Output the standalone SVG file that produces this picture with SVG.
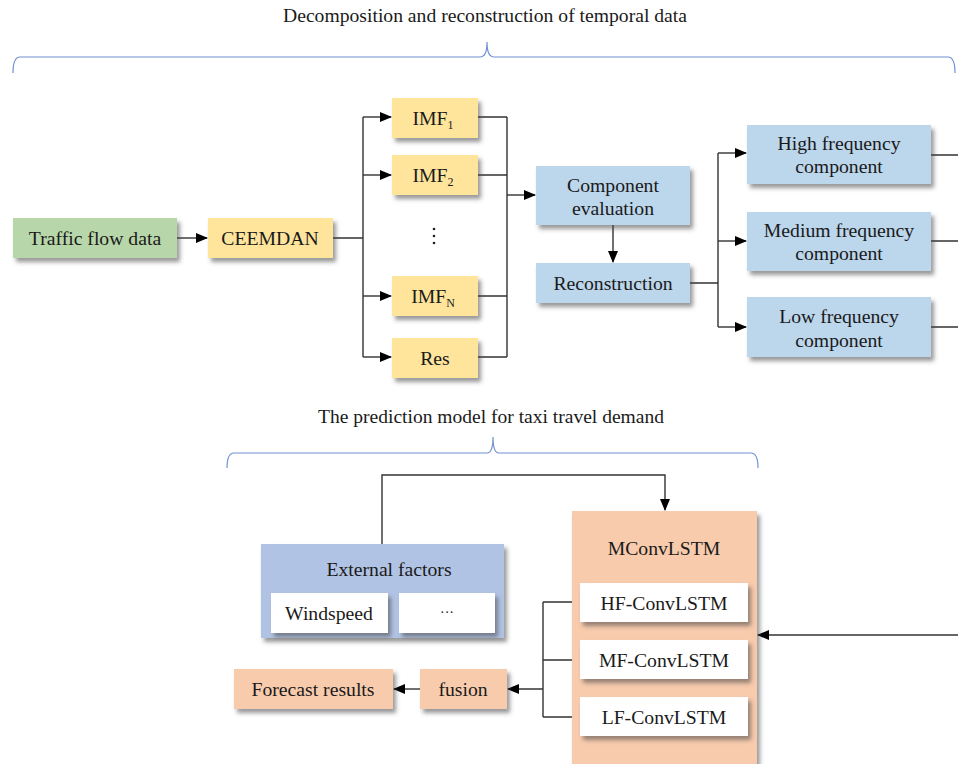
<svg xmlns="http://www.w3.org/2000/svg" width="958" height="764" viewBox="0 0 958 764">
<defs>
<filter id="sh" x="-10%" y="-10%" width="130%" height="140%">
<feDropShadow dx="3" dy="4" stdDeviation="2" flood-color="#444" flood-opacity="0.55"/>
</filter>
<marker id="ar" markerWidth="12" markerHeight="10" refX="11" refY="5" orient="auto" markerUnits="userSpaceOnUse">
<path d="M0,0 L12,5 L0,10 Z" fill="#000"/>
</marker>
<style>
text{font-family:"Liberation Serif","Times New Roman",serif;font-size:19.7px;fill:#1a1a1a;text-anchor:middle}
.g{fill:#b7d6a9}
.y{fill:#ffe59c}
.b{fill:#bcd6ec}
.p{fill:#b1c3e4}
.o{fill:#f8cbad}
.w{fill:#fff}
.box{filter:url(#sh)}
.ln{fill:none;stroke:#333;stroke-width:1.4}
.br{fill:none;stroke:#7090d0;stroke-width:1.2}
</style>
</defs>
<rect width="958" height="764" fill="#fff"/>

<g id="titles">
<text x="485" y="22" textLength="404" lengthAdjust="spacingAndGlyphs">Decomposition and reconstruction of temporal data</text>
<path class="br" d="M13,73 Q13,57 20,57 L480,57 Q487,57 487,42 Q487,57 494,57 L948,57 Q955,57 955,73"/>
<text x="491" y="423" textLength="346" lengthAdjust="spacingAndGlyphs">The prediction model for taxi travel demand</text>
<path class="br" d="M227,468 Q227,453 234,453 L487,453 Q493,453 493,437 Q493,453 499,453 L751,453 Q758,453 758,468"/>
</g>

<g id="connectors">
<path class="ln" d="M177,238 L207,238" marker-end="url(#ar)"/>
<path class="ln" d="M333,238 L363,238 M363,117 L363,357"/>
<path class="ln" d="M363,117 L391,117" marker-end="url(#ar)"/>
<path class="ln" d="M363,175 L391,175" marker-end="url(#ar)"/>
<path class="ln" d="M363,296 L391,296" marker-end="url(#ar)"/>
<path class="ln" d="M363,357 L391,357" marker-end="url(#ar)"/>
<path class="ln" d="M478,117 L507,117 M478,175 L507,175 M478,296 L507,296 M478,357 L507,357 M507,117 L507,357"/>
<path class="ln" d="M507,195 L535,195" marker-end="url(#ar)"/>
<path class="ln" d="M613,225 L613,262" marker-end="url(#ar)"/>
<path class="ln" d="M690,283 L718,283 M718,153 L718,327"/>
<path class="ln" d="M718,153 L746,153" marker-end="url(#ar)"/>
<path class="ln" d="M718,241 L746,241" marker-end="url(#ar)"/>
<path class="ln" d="M718,327 L746,327" marker-end="url(#ar)"/>
<path class="ln" d="M931,155 L958,155 M931,241 L958,241 M931,327 L958,327"/>
<path class="ln" d="M382,544 L382,475 L665,475 L665,510" marker-end="url(#ar)"/>
<path class="ln" d="M958,635 L758,635" marker-end="url(#ar)"/>
<path class="ln" d="M580,602 L543,602 M580,660 L543,660 M580,717 L543,717 M543,602 L543,717"/>
<path class="ln" d="M543,689 L508,689" marker-end="url(#ar)"/>
<path class="ln" d="M420,689 L394,689" marker-end="url(#ar)"/>
</g>

<g id="traffic"><rect class="g box" x="13" y="218" width="164" height="40"/><text x="95" y="245">Traffic flow data</text></g>
<g id="ceemdan"><rect class="y box" x="208" y="218" width="125" height="40"/><text x="270" y="245">CEEMDAN</text></g>
<g id="imf1"><rect class="y box" x="392" y="98" width="86" height="40"/><text x="433" y="125">IMF<tspan font-size="12" dy="4">1</tspan></text></g>
<g id="imf2"><rect class="y box" x="392" y="155" width="86" height="40"/><text x="433" y="182">IMF<tspan font-size="12" dy="4">2</tspan></text></g>
<g id="dots"><circle cx="434" cy="229" r="1.3" fill="#222"/><circle cx="434" cy="236" r="1.3" fill="#222"/><circle cx="434" cy="243" r="1.3" fill="#222"/></g>
<g id="imfn"><rect class="y box" x="392" y="276" width="86" height="40"/><text x="433" y="303">IMF<tspan font-size="12" dy="4">N</tspan></text></g>
<g id="res"><rect class="y box" x="392" y="338" width="86" height="40"/><text x="435" y="365">Res</text></g>

<g id="evaluation"><rect class="b box" x="536" y="166" width="154" height="59"/><text x="613" y="192">Component</text><text x="613" y="215">evaluation</text></g>
<g id="reconstruction"><rect class="b box" x="536" y="263" width="154" height="40"/><text x="613" y="290">Reconstruction</text></g>
<g id="high"><rect class="b box" x="747" y="125" width="184" height="59"/><text x="839" y="150">High frequency</text><text x="839" y="173">component</text></g>
<g id="medium"><rect class="b box" x="747" y="212" width="184" height="59"/><text x="839" y="237">Medium frequency</text><text x="839" y="260">component</text></g>
<g id="low"><rect class="b box" x="747" y="297" width="184" height="60"/><text x="839" y="323">Low frequency</text><text x="839" y="347">component</text></g>

<g id="external"><rect class="p box" x="261" y="544" width="243" height="94"/><text x="389" y="576">External factors</text>
<rect class="w" x="271" y="593" width="117" height="40" filter="url(#sh)"/><text x="329" y="620">Windspeed</text>
<rect class="w" x="399" y="593" width="96" height="40" filter="url(#sh)"/><text x="447" y="617" style="font-size:14px">···</text></g>

<g id="mconvlstm"><rect class="o box" x="572" y="511" width="185" height="260"/><text x="664" y="555">MConvLSTM</text>
<rect class="w box" x="580" y="583" width="168" height="39"/><text x="664" y="610">HF-ConvLSTM</text>
<rect class="w box" x="580" y="640" width="168" height="39"/><text x="664" y="667">MF-ConvLSTM</text>
<rect class="w box" x="580" y="697" width="168" height="39"/><text x="664" y="724">LF-ConvLSTM</text></g>

<g id="fusion"><rect class="o box" x="420" y="669" width="87" height="40"/><text x="463" y="696">fusion</text></g>
<g id="forecast"><rect class="o box" x="234" y="669" width="159" height="40"/><text x="313" y="696">Forecast results</text></g>
</svg>
